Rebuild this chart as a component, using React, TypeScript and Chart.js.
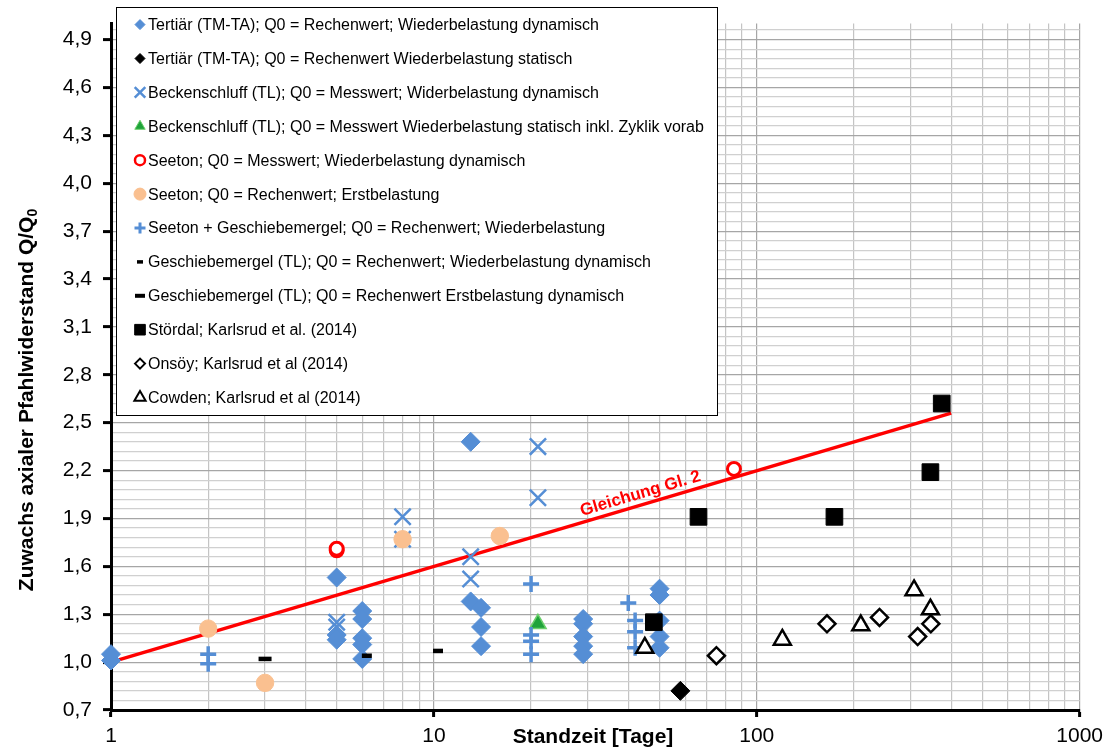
import React, { useEffect, useRef } from 'react';
import { Chart, registerables } from 'chart.js';
import { drawPoint } from 'chart.js/helpers';

Chart.register(...registerables);

const FONT = '"Liberation Sans", Arial, Helvetica, sans-serif';

// ---------- series labels ----------
const seriesLabels = [
  'Tertiär (TM-TA); Q0 = Rechenwert; Wiederbelastung dynamisch',
  'Tertiär (TM-TA); Q0 = Rechenwert Wiederbelastung statisch',
  'Beckenschluff (TL); Q0 = Messwert; Widerbelastung dynamisch',
  'Beckenschluff (TL); Q0 = Messwert Wiederbelastung statisch inkl. Zyklik vorab',
  'Seeton; Q0 = Messwert; Wiederbelastung dynamisch',
  'Seeton; Q0 = Rechenwert; Erstbelastung',
  'Seeton + Geschiebemergel; Q0 = Rechenwert; Wiederbelastung',
  'Geschiebemergel (TL); Q0 = Rechenwert; Wiederbelastung dynamisch',
  'Geschiebemergel (TL); Q0 = Rechenwert Erstbelastung dynamisch',
  'Stördal; Karlsrud et al. (2014)',
  'Onsöy; Karlsrud et al (2014)',
  'Cowden; Karlsrud et al (2014)',
];
const lineLabel = 'Gleichung Gl. 2';

// ---------- data (Standzeit [Tage], Q/Q0) ----------
const tertiaerDynX = [1, 1, 5, 5, 5, 6, 6, 6, 6, 6, 13, 13, 14, 14, 14, 29, 29, 29, 29, 29, 50, 50, 50, 50, 50];
const tertiaerDynY = [1.05, 1.01, 1.53, 1.17, 1.14, 1.32, 1.27, 1.15, 1.11, 1.02, 2.38, 1.38, 1.34, 1.22, 1.10, 1.27, 1.24, 1.16, 1.10, 1.05, 1.46, 1.42, 1.26, 1.16, 1.09];

const tertiaerStatX = [58];
const tertiaerStatY = [0.82];

const beckenDynX = [5, 5, 8, 8, 13, 13, 21, 21];
const beckenDynY = [1.25, 1.22, 1.91, 1.77, 1.66, 1.52, 2.35, 2.03];

const beckenStatX = [21];
const beckenStatY = [1.24];

const seetonMessX = [5, 5, 85];
const seetonMessY = [1.70, 1.71, 2.21];

const seetonErstX = [2, 3, 8, 16];
const seetonErstY = [1.21, 0.87, 1.77, 1.79];

const seetonGeschX = [2, 2, 20, 20, 20, 20, 40, 42, 42, 42];
const seetonGeschY = [1.05, 0.99, 1.49, 1.17, 1.13, 1.05, 1.37, 1.26, 1.19, 1.09];

const geschWiederX = [6.2, 10.3];
const geschWiederY = [1.04, 1.07];

const geschErstX = [3];
const geschErstY = [1.02];

const stoerdalX = [48, 66, 174, 345, 374];
const stoerdalY = [1.25, 1.91, 1.91, 2.19, 2.62];

const onsoeyX = [75, 165, 240, 315, 346];
const onsoeyY = [1.04, 1.24, 1.28, 1.16, 1.24];

const cowdenX = [45, 120, 210, 307, 345];
const cowdenY = [1.09, 1.14, 1.23, 1.45, 1.33];

const gleichungX = [1, 400];
const gleichungY = [1.0, 2.56];

// ---------- axis ticks ----------
const xTickValues = [1, 2, 3, 4, 5, 6, 7, 8, 9, 10, 20, 30, 40, 50, 60, 70, 80, 90, 100, 200, 300, 400, 500, 600, 700, 800, 900, 1000];
const yMajorTicks = [0.7, 1.0, 1.3, 1.6, 1.9, 2.2, 2.5, 2.8, 3.1, 3.4, 3.7, 4.0, 4.3, 4.6, 4.9];
const yMinorStep = 0.06;
const yMin = 0.7;
const yMax = 5.0;

const pts = (xs: number[], ys: number[]) => xs.map((x, i) => ({ x, y: ys[i] }));

const BLUE = '#558ED5';
const PEACH = '#FAC090';
const GREEN = '#1FA33A';
const RED = '#FF0000';

type Style = {
  pointStyle: string;
  radius: number;
  legendRadius: number;
  bg: string;
  border: string;
  borderWidth: number;
  legendBorderWidth?: number;
};

const styles: Style[] = [
  { pointStyle: 'rectRot', radius: 9.5, legendRadius: 5, bg: BLUE, border: BLUE, borderWidth: 1 },
  { pointStyle: 'rectRot', radius: 9.5, legendRadius: 5, bg: '#000', border: '#000', borderWidth: 1 },
  { pointStyle: 'crossRot', radius: 11.5, legendRadius: 7.5, bg: BLUE, border: BLUE, borderWidth: 2.5, legendBorderWidth: 2.5 },
  { pointStyle: 'triangle', radius: 9.5, legendRadius: 6, bg: GREEN, border: '#6ccf6c', borderWidth: 1.5, legendBorderWidth: 1 },
  { pointStyle: 'circle', radius: 6.5, legendRadius: 5, bg: '#fff', border: RED, borderWidth: 3, legendBorderWidth: 2.5 },
  { pointStyle: 'circle', radius: 8.7, legendRadius: 6, bg: PEACH, border: PEACH, borderWidth: 1 },
  { pointStyle: 'cross', radius: 8, legendRadius: 5.5, bg: BLUE, border: BLUE, borderWidth: 3.5, legendBorderWidth: 3 },
  { pointStyle: 'line', radius: 5, legendRadius: 3, bg: '#000', border: '#000', borderWidth: 4.5, legendBorderWidth: 3.5 },
  { pointStyle: 'line', radius: 6.5, legendRadius: 5, bg: '#000', border: '#000', borderWidth: 4.5, legendBorderWidth: 4 },
  { pointStyle: 'rect', radius: 11.8, legendRadius: 7.5, bg: '#000', border: '#000', borderWidth: 1 },
  { pointStyle: 'rectRot', radius: 8.5, legendRadius: 5, bg: '#fff', border: '#000', borderWidth: 2.5, legendBorderWidth: 2 },
  { pointStyle: 'triangle', radius: 9.8, legendRadius: 6.5, bg: '#fff', border: '#000', borderWidth: 2.5, legendBorderWidth: 2 },
];

const seriesData = [
  pts(tertiaerDynX, tertiaerDynY),
  pts(tertiaerStatX, tertiaerStatY),
  pts(beckenDynX, beckenDynY),
  pts(beckenStatX, beckenStatY),
  pts(seetonMessX, seetonMessY),
  pts(seetonErstX, seetonErstY),
  pts(seetonGeschX, seetonGeschY),
  pts(geschWiederX, geschWiederY),
  pts(geschErstX, geschErstY),
  pts(stoerdalX, stoerdalY),
  pts(onsoeyX, onsoeyY),
  pts(cowdenX, cowdenY),
];

const isDecade = (v: number) => Math.abs(Math.log10(v) - Math.round(Math.log10(v))) < 1e-9;
const isMajorY = (v: number) => {
  const k = (v - yMin) / 0.3;
  return Math.abs(k - Math.round(k)) < 1e-6;
};

const yTickValues: number[] = [];
yMajorTicks.forEach((m) => {
  for (let k = 0; k < 5; k++) {
    const v = Math.round((m + k * yMinorStep) * 100) / 100;
    if (v <= yMax + 1e-9) yTickValues.push(v);
  }
});

const legendPlugin = {
  id: 'boxLegend',
  afterDatasetsDraw(chart: any) {
    const ctx = chart.ctx as CanvasRenderingContext2D;
    ctx.save();
    ctx.fillStyle = '#fff';
    ctx.fillRect(116, 7, 601, 408);
    ctx.strokeStyle = '#000';
    ctx.lineWidth = 1;
    ctx.strokeRect(116.5, 7.5, 601, 408);
    ctx.font = `16px ${FONT}`;
    ctx.textBaseline = 'middle';
    ctx.textAlign = 'left';
    seriesLabels.forEach((label, i) => {
      const y = 24.6 + i * 33.9;
      const s = styles[i];
      ctx.save();
      ctx.fillStyle = s.bg;
      ctx.strokeStyle = s.border;
      ctx.lineWidth = s.legendBorderWidth ?? 1;
      drawPoint(ctx, { pointStyle: s.pointStyle, radius: s.legendRadius, rotation: 0, borderWidth: s.legendBorderWidth ?? 1 } as any, 140, y);
      ctx.restore();
      ctx.fillStyle = '#000';
      ctx.fillText(label, 148, y + 1);
    });
    ctx.restore();
  },
};

const lineLabelPlugin = {
  id: 'lineLabel',
  afterDatasetsDraw(chart: any) {
    const meta = chart.getDatasetMeta(12);
    if (!meta || meta.data.length < 2) return;
    const p0 = meta.data[0];
    const p1 = meta.data[1];
    const a = Math.atan2(p1.y - p0.y, p1.x - p0.x);
    const f = 0.634;
    const ax = p0.x + f * (p1.x - p0.x);
    const ay = p0.y + f * (p1.y - p0.y);
    const off = 11;
    const cx = ax + off * Math.sin(a);
    const cy = ay - off * Math.cos(a);
    const ctx = chart.ctx as CanvasRenderingContext2D;
    ctx.save();
    ctx.translate(cx, cy);
    ctx.rotate(a);
    ctx.font = `bold 17px ${FONT}`;
    ctx.fillStyle = RED;
    ctx.textAlign = 'center';
    ctx.textBaseline = 'middle';
    ctx.fillText(lineLabel, 0, 0);
    ctx.restore();
  },
};

const titlePlugin = {
  id: 'axisTitles',
  afterDraw(chart: any) {
    const ctx = chart.ctx as CanvasRenderingContext2D;
    ctx.save();
    ctx.fillStyle = '#000';
    ctx.font = `bold 21px ${FONT}`;
    ctx.textAlign = 'center';
    ctx.textBaseline = 'middle';
    ctx.fillText('Standzeit [Tage]', 593, 737);

    const main = 'Zuwachs axialer Pfahlwiderstand Q/Q';
    const sub = '0';
    const wMain = ctx.measureText(main).width;
    ctx.font = `bold 14px ${FONT}`;
    const wSub = ctx.measureText(sub).width;
    const total = wMain + wSub;
    ctx.translate(27, 400);
    ctx.rotate(-Math.PI / 2);
    ctx.textAlign = 'left';
    ctx.font = `bold 21px ${FONT}`;
    ctx.fillText(main, -total / 2, 0);
    ctx.font = `bold 14px ${FONT}`;
    ctx.fillText(sub, -total / 2 + wMain, 6);
    ctx.restore();
  },
};

export default function App() {
  const ref = useRef<HTMLCanvasElement>(null);
  useEffect(() => {
    document.body.style.margin = '0';
    const canvas = ref.current!;
    const datasets: any[] = seriesData.map((data, i) => {
      const s = styles[i];
      return {
        label: seriesLabels[i],
        data,
        showLine: false,
        clip: false,
        order: 50 - i,
        pointStyle: s.pointStyle,
        pointRadius: s.radius,
        pointBackgroundColor: s.bg,
        pointBorderColor: s.border,
        pointBorderWidth: s.borderWidth,
      };
    });
    datasets.push({
      label: lineLabel,
      data: pts(gleichungX, gleichungY),
      showLine: true,
      clip: false,
      order: 100,
      borderColor: RED,
      borderWidth: 3.5,
      pointRadius: 0,
      tension: 0,
    });

    const chart = new Chart(canvas, {
      type: 'scatter',
      data: { datasets },
      options: {
        responsive: false,
        animation: false,
        devicePixelRatio: 1,
        layout: { padding: { top: 21, right: 28, left: 0, bottom: 0 } },
        plugins: { legend: { display: false }, tooltip: { enabled: false } },
        scales: {
          x: {
            type: 'logarithmic',
            min: 1,
            max: 1000,
            position: 'bottom',
            afterBuildTicks: (s: any) => {
              s.ticks = xTickValues.map((v) => ({ value: v }));
            },
            afterFit: (s: any) => {
              s.height = 41;
            },
            ticks: {
              autoSkip: false,
              maxRotation: 0,
              minRotation: 0,
              padding: 7,
              color: '#000',
              font: { family: FONT, size: 21 },
              callback: (v: any) => (isDecade(Number(v)) ? String(Number(v)) : ''),
            },
            grid: {
              color: (c: any) => (isDecade(c.tick.value) ? '#a6a6a6' : '#c4c4c4'),
              lineWidth: 1.2,
              tickLength: 7,
              tickWidth: 3,
              tickColor: (c: any) => (isDecade(c.tick.value) ? '#000' : 'rgba(0,0,0,0)'),
            },
            border: { display: true, color: '#000', width: 3 },
          },
          y: {
            type: 'linear',
            min: yMin,
            max: yMax,
            afterBuildTicks: (s: any) => {
              s.ticks = yTickValues.map((v) => ({ value: v }));
            },
            afterFit: (s: any) => {
              s.width = 111;
            },
            ticks: {
              autoSkip: false,
              padding: 11,
              color: '#000',
              font: { family: FONT, size: 21 },
              callback: (v: any) => (isMajorY(Number(v)) ? Number(v).toFixed(1).replace('.', ',') : ''),
            },
            grid: {
              color: (c: any) => (isMajorY(c.tick.value) ? '#a6a6a6' : '#d0d0d0'),
              lineWidth: 1.2,
              tickLength: 8,
              tickWidth: 3,
              tickColor: (c: any) => (isMajorY(c.tick.value) ? '#000' : 'rgba(0,0,0,0)'),
            },
            border: { display: true, color: '#000', width: 3 },
          },
        },
      } as any,
      plugins: [legendPlugin, lineLabelPlugin, titlePlugin],
    });
    return () => chart.destroy();
  }, []);
  return (
    <div style={{ width: 1110, height: 751 }}>
      <canvas ref={ref} width={1110} height={751} style={{ display: 'block' }} />
    </div>
  );
}
